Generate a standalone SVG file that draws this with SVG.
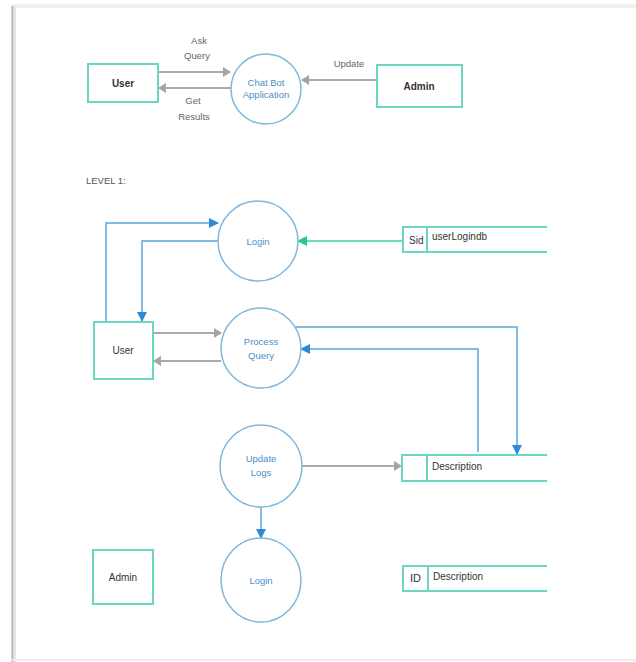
<svg xmlns="http://www.w3.org/2000/svg" width="636" height="662" viewBox="0 0 636 662">
<style>
.ent{fill:#fff;stroke:#6dd6c2;stroke-width:2}
.proc{fill:#fff;stroke:#7db8dd;stroke-width:1.5}
.store{fill:none;stroke:#6dd6c2;stroke-width:2}
.t{font-family:"Liberation Sans",Arial,sans-serif;font-size:10px;fill:#333;text-anchor:middle}
.tp{font-family:"Liberation Sans",Arial,sans-serif;font-size:9.5px;fill:#4a8fc9;text-anchor:middle}
.tl{font-family:"Liberation Sans",Arial,sans-serif;font-size:9.5px;fill:#666;text-anchor:middle}
.ts{font-family:"Liberation Sans",Arial,sans-serif;font-size:10px;fill:#333}
.g{stroke:#aaaaaa;stroke-width:2;fill:none}
.b{stroke:#5ea6da;stroke-width:1.5;fill:none}
.gr{stroke:#3fcfa9;stroke-width:1.5;fill:none}
</style>
<defs>
<marker id="ag" markerWidth="8" markerHeight="10" refX="7" refY="5" orient="auto" markerUnits="userSpaceOnUse"><path d="M0,0 L8,5 L0,10 Z" fill="#a5a5a5"/></marker>
<marker id="ab" markerWidth="10" markerHeight="10" refX="9" refY="5" orient="auto" markerUnits="userSpaceOnUse"><path d="M0,0 L10,5 L0,10 Z" fill="#2f8ad6"/></marker>
<marker id="agr" markerWidth="10" markerHeight="10" refX="9" refY="5" orient="auto" markerUnits="userSpaceOnUse"><path d="M0,0 L10,5 L0,10 Z" fill="#22c79a"/></marker>
</defs>
<rect width="636" height="662" fill="#fff"/>
<g id="frame">
<rect x="12" y="4" width="624" height="4" fill="#f0f0f0"/>
<line x1="12.5" y1="6" x2="12.5" y2="662" stroke="#b5b5b5" stroke-width="2"/>
<line x1="15" y1="6" x2="15" y2="662" stroke="#e6e6e6" stroke-width="2"/>
<line x1="12" y1="660" x2="636" y2="660" stroke="#eeeeee" stroke-width="2"/>
</g>
<g id="connectors">
<line class="g" x1="158" y1="72" x2="230" y2="72" marker-end="url(#ag)"/>
<line class="g" x1="231" y1="88" x2="159" y2="88" marker-end="url(#ag)"/>
<line class="g" x1="377" y1="80" x2="302" y2="80" marker-end="url(#ag)"/>
<polyline class="b" points="106,322 106,223 218,223" marker-end="url(#ab)"/>
<polyline class="b" points="219,241 142,241 142,321" marker-end="url(#ab)"/>
<line class="gr" x1="403" y1="241" x2="298" y2="241" marker-end="url(#agr)"/>
<line class="g" x1="153" y1="333" x2="221" y2="333" marker-end="url(#ag)"/>
<line class="g" x1="221" y1="361" x2="154" y2="361" marker-end="url(#ag)"/>
<polyline class="b" points="296,327 517,327 517,454" marker-end="url(#ab)"/>
<polyline class="b" points="478,452 478,349 301,349" marker-end="url(#ab)"/>
<line class="g" x1="301" y1="466" x2="401" y2="466" marker-end="url(#ag)"/>
<line class="b" x1="261" y1="507" x2="261" y2="538" marker-end="url(#ab)"/>
</g>
<g id="labels">
<text class="tl" x="199" y="44">Ask</text>
<text class="tl" x="197" y="59">Query</text>
<text class="tl" x="193" y="104">Get</text>
<text class="tl" x="194" y="120">Results</text>
<text class="tl" x="349" y="67">Update</text>
<text class="ts" x="86" y="184" style="font-size:9.5px;fill:#555">LEVEL 1:</text>
</g>
<g id="user0"><rect class="ent" x="88" y="64" width="70" height="38"/><text class="t" x="123" y="87" style="font-weight:bold">User</text></g>
<g id="chatbot"><circle class="proc" cx="266" cy="89" r="35"/><text class="tp" x="266" y="86">Chat Bot</text><text class="tp" x="266" y="98">Application</text></g>
<g id="admin0"><rect class="ent" x="377" y="65" width="85" height="42"/><text class="t" x="419" y="90" style="font-weight:bold">Admin</text></g>
<g id="login1"><circle class="proc" cx="258" cy="241" r="40"/><text class="tp" x="258" y="245">Login</text></g>
<g id="store-sid"><path class="store" d="M547,227 H403 V252 H547 M427,227 V252"/><text class="ts" x="409" y="244">Sid</text><text class="ts" x="432" y="240">userLogindb</text></g>
<g id="user1"><rect class="ent" x="94" y="322" width="59" height="57"/><text class="t" x="123" y="354">User</text></g>
<g id="process-query"><circle class="proc" cx="261" cy="348" r="40"/><text class="tp" x="261" y="345">Process</text><text class="tp" x="261" y="359">Query</text></g>
<g id="update-logs"><circle class="proc" cx="261" cy="466" r="41"/><text class="tp" x="261" y="462">Update</text><text class="tp" x="261" y="476">Logs</text></g>
<g id="store-desc"><path class="store" d="M547,455 H402 V481 H547 M427,455 V481"/><text class="ts" x="432" y="470">Description</text></g>
<g id="admin1"><rect class="ent" x="93" y="550" width="60" height="54"/><text class="t" x="123" y="581">Admin</text></g>
<g id="login2"><ellipse class="proc" cx="261" cy="580" rx="40" ry="42"/><text class="tp" x="261" y="584">Login</text></g>
<g id="store-id"><path class="store" d="M547,566 H403 V591 H547 M428,566 V591"/><text class="ts" x="410" y="582" style="font-size:11px">ID</text><text class="ts" x="433" y="580">Description</text></g>
</svg>
